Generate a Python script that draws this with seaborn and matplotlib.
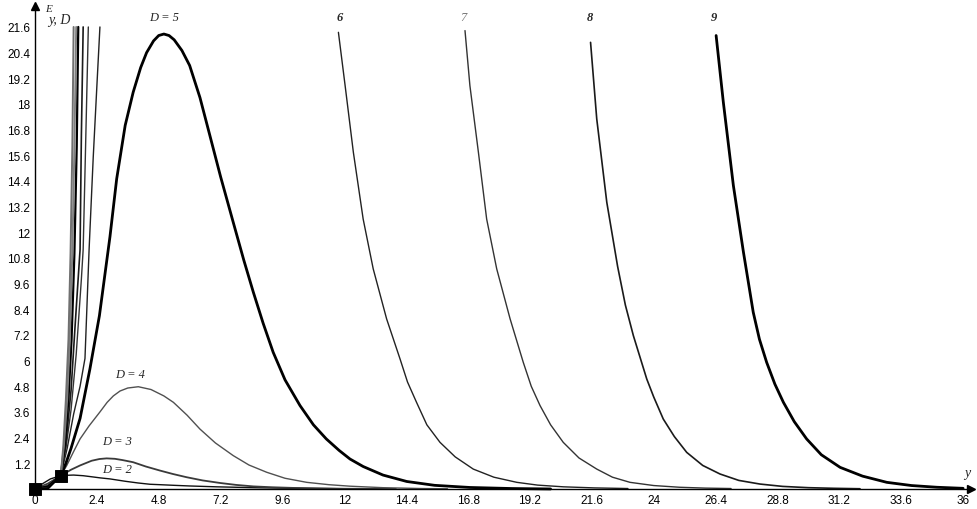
import pandas as pd
import matplotlib.pyplot as plt
import seaborn as sns

# ---- values (y on the x-axis, E_{y,D} on the y-axis) ----
d2_y = [0, 0.3, 0.6, 1.0, 1.25, 1.5, 1.87, 2.2, 2.52, 2.91, 3.5, 4.0, 4.46, 4.85, 5.4, 6.0, 7.05,
        8.5, 10.0, 12.0]
d2_E = [0, 0.25, 0.47, 0.62, 0.64, 0.65, 0.62, 0.57, 0.52, 0.47, 0.36, 0.28, 0.22, 0.2, 0.17, 0.14,
        0.1, 0.06, 0.03, 0.01]

d3_y = [0, 0.5, 1.0, 1.4, 1.75, 2.2, 2.5, 2.78, 3.1, 3.4, 3.81, 4.3, 4.85, 5.35, 5.88, 6.5, 7.18,
        7.8, 8.47, 9.2, 10.0, 11.0, 12.0, 14.0]
d3_E = [0, 0.25, 0.62, 0.9, 1.1, 1.32, 1.4, 1.43, 1.41, 1.35, 1.25, 1.05, 0.86, 0.7, 0.55, 0.4, 0.28,
        0.19, 0.12, 0.08, 0.05, 0.03, 0.01, 0.0]

d4_y = [0, 0.5, 1.0, 1.23, 1.5, 1.75, 2.1, 2.52, 2.8, 3.04, 3.3, 3.6, 4.01, 4.5, 5.0, 5.37, 5.9,
        6.4, 7.0, 7.69, 8.3, 8.99, 9.7, 10.54, 11.4, 12.22, 13.5, 15.0, 16.0]
d4_E = [0, 0.18, 0.62, 1.09, 1.75, 2.34, 2.95, 3.6, 4.05, 4.35, 4.58, 4.72, 4.78, 4.65, 4.35, 4.05,
        3.45, 2.8, 2.15, 1.56, 1.12, 0.78, 0.5, 0.31, 0.2, 0.13, 0.06, 0.02, 0.01]

d5_y = [0, 0.5, 1.0, 1.2, 1.4, 1.75, 2.13, 2.5, 2.91, 3.17, 3.5, 3.81, 4.1, 4.33, 4.6, 4.8, 5.0, 5.2,
        5.4, 5.7, 6.0, 6.4, 6.79, 7.2, 7.69, 8.1, 8.47, 8.85, 9.24, 9.7, 10.28, 10.8, 11.3, 11.8,
        12.22, 12.73, 13.5, 14.42, 15.5, 16.87, 18.5, 20.0]
d5_E = [0, 0.1, 0.62, 1.2, 1.9, 3.3, 5.6, 8.1, 11.8, 14.5, 17.0, 18.55, 19.7, 20.4, 20.95, 21.2, 21.27,
        21.2, 21.0, 20.5, 19.8, 18.3, 16.5, 14.6, 12.47, 10.7, 9.2, 7.75, 6.39, 5.1, 3.9, 3.0, 2.34,
        1.8, 1.4, 1.05, 0.65, 0.35, 0.17, 0.07, 0.02, 0.0]

# D = 6..9 leave the top of the frame, so each has a rising and a falling branch
d6_rise_y = [0, 0.5, 1.0, 1.25, 1.5, 1.75, 1.94, 2.1, 2.26, 2.4, 2.52]
d6_rise_E = [0, 0.06, 0.62, 1.9, 3.5, 4.8, 6.1, 11.2, 15.5, 18.8, 21.6]
d6_fall_y = [11.77, 12.03, 12.35, 12.73, 13.12, 13.64, 14.16, 14.45, 14.8, 15.2, 15.71, 16.3, 17.0,
             17.8, 18.69, 19.5, 20.5, 21.7, 23.0]
d6_fall_E = [21.35, 18.86, 15.74, 12.62, 10.29, 7.95, 6.08, 5.0, 4.05, 3.0, 2.18, 1.5, 0.93,
             0.55, 0.31, 0.18, 0.1, 0.05, 0.02]

d7_rise_y = [0, 0.5, 1.0, 1.2, 1.4, 1.6, 1.8, 1.87, 1.95, 2.07]
d7_rise_E = [0, 0.04, 0.62, 1.9, 3.7, 6.3, 9.8, 11.2, 15.3, 21.6]
d7_fall_y = [16.68, 16.87, 17.2, 17.52, 17.91, 18.43, 18.94, 19.25, 19.59, 20.0, 20.49, 21.1, 21.79,
             22.4, 23.08, 24.0, 25.0, 26.0, 27.0]
d7_fall_E = [21.43, 18.86, 15.74, 12.62, 10.29, 7.95, 5.92, 4.8, 3.9, 3.0, 2.18, 1.45, 0.93,
             0.55, 0.31, 0.16, 0.08, 0.04, 0.02]

d8_rise_y = [0, 0.5, 1.0, 1.2, 1.4, 1.55, 1.75, 1.8, 1.87]
d8_rise_E = [0, 0.03, 0.62, 2.1, 4.6, 7.5, 11.2, 16.5, 21.6]
d8_fall_y = [21.55, 21.79, 22.18, 22.6, 22.9, 23.21, 23.73, 24.0, 24.37, 24.8, 25.28, 25.9, 26.57,
             27.3, 28.12, 29.0, 30.0, 31.0, 32.0]
d8_fall_E = [20.88, 17.3, 13.4, 10.4, 8.6, 7.17, 5.14, 4.3, 3.27, 2.45, 1.71, 1.1, 0.7,
             0.4, 0.23, 0.12, 0.06, 0.03, 0.01]

d9_rise_y = [0, 0.5, 1.0, 1.15, 1.3, 1.42, 1.53, 1.62, 1.68]
d9_rise_E = [0, 0.02, 0.62, 2.0, 4.2, 7.0, 11.0, 16.0, 21.6]
d9_fall_y = [26.42, 26.7, 27.09, 27.48, 27.86, 28.1, 28.38, 28.7, 29.03, 29.45, 29.93, 30.5, 31.23,
             32.1, 33.04, 34.0, 34.98, 36.0]
d9_fall_E = [21.2, 18.08, 14.18, 11.07, 8.26, 7.0, 5.92, 4.9, 4.05, 3.15, 2.34, 1.6, 1.01,
             0.6, 0.31, 0.16, 0.08, 0.03]

# grey bundle of steeper branches left of D = 9
steep_a_y = [1.0, 1.12, 1.25, 1.35, 1.45, 1.53, 1.6]
steep_b_y = [1.0, 1.1, 1.2, 1.3, 1.38, 1.45, 1.5]
steep_E = [0.62, 2.0, 4.2, 7.0, 11.0, 16.0, 21.6]

# marked points and tick values
marker_y = [0, 1.0]
marker_E = [0, 0.62]
x_ticks = [0, 2.4, 4.8, 7.2, 9.6, 12, 14.4, 16.8, 19.2, 21.6, 24, 26.4, 28.8, 31.2, 33.6, 36]
y_ticks = [1.2, 2.4, 3.6, 4.8, 6, 7.2, 8.4, 9.6, 10.8, 12, 13.2, 14.4, 15.6, 16.8, 18,
           19.2, 20.4, 21.6]

curves = [
    (d2_y, d2_E, '#111111', 1.0),
    (d3_y, d3_E, '#3a3a3a', 1.3),
    (d4_y, d4_E, '#505050', 1.0),
    (d5_y, d5_E, '#000000', 2.0),
    (d6_rise_y, d6_rise_E, '#222222', 1.0),
    (d6_fall_y, d6_fall_E, '#222222', 1.0),
    (d7_rise_y, d7_rise_E, '#333333', 1.0),
    (d7_fall_y, d7_fall_E, '#333333', 1.0),
    (d8_rise_y, d8_rise_E, '#1a1a1a', 1.2),
    (d8_fall_y, d8_fall_E, '#1a1a1a', 1.2),
    (d9_rise_y, d9_rise_E, '#000000', 1.6),
    (d9_fall_y, d9_fall_E, '#000000', 2.0),
    (steep_a_y, steep_E, '#808080', 1.4),
    (steep_b_y, steep_E, '#707070', 1.4),
]

sns.set_style('white')
plt.rcParams['font.family'] = ['Liberation Sans', 'DejaVu Sans']

fig = plt.figure(figsize=(9.77, 5.10), dpi=100)
ax = fig.add_axes([0.0305, 0.0267, 0.9632, 0.9604])

for xs, es, col, lw in curves:
    df = pd.DataFrame({'y': xs, 'E': es})
    sns.lineplot(data=df, x='y', y='E', estimator=None, sort=False,
                 color=col, linewidth=lw, ax=ax)

sns.scatterplot(x=marker_y, y=marker_E, marker='s', s=70, color='black',
                edgecolor='black', zorder=5, clip_on=False, ax=ax)

ax.set_xlim(-0.2, 36.3)
ax.set_ylim(-0.3, 22.6)
ax.spines['left'].set_position(('data', 0))
ax.spines['bottom'].set_position(('data', 0))
ax.spines['top'].set_visible(False)
ax.spines['right'].set_visible(False)
for s in ['left', 'bottom']:
    ax.spines[s].set_linewidth(1.0)
    ax.spines[s].set_color('black')

ax.set_xticks(x_ticks)
ax.set_xticklabels([f'{v:g}' for v in x_ticks])
ax.set_yticks(y_ticks)
ax.set_yticklabels([f'{v:g}' for v in y_ticks])
ax.tick_params(direction='inout', length=5, width=0.8, labelsize=8.5, pad=1, colors='black')
ax.set_xlabel('')
ax.set_ylabel('')

# axis arrows
ax.plot(1, 0, '>k', markersize=6, transform=ax.get_yaxis_transform(), clip_on=False)
ax.plot(0, 1, '^k', markersize=6, transform=ax.get_xaxis_transform(), clip_on=False)

serif = dict(family=['Liberation Serif', 'DejaVu Serif'], style='italic')
ax.text(0.4, 22.45, 'E', fontsize=8, ha='left', va='center', **serif)
ax.text(0.5, 21.95, 'y, D', fontsize=10, ha='left', va='center', **serif)
ax.text(36.15, 0.75, 'y', fontsize=10, ha='center', va='center', **serif)

ax.text(5.0, 22.07, 'D = 5', fontsize=9, ha='center', va='center', **serif)
ax.text(3.69, 5.38, 'D = 4', fontsize=9, ha='center', va='center', **serif)
ax.text(3.18, 2.24, 'D = 3', fontsize=9, ha='center', va='center', **serif)
ax.text(3.18, 0.94, 'D = 2', fontsize=9, ha='center', va='center', **serif)
ax.text(11.83, 22.07, '6', fontsize=9, fontweight='bold', ha='center', va='center', **serif)
ax.text(16.6, 22.07, '7', fontsize=9, color='#777777', ha='center', va='center', **serif)
ax.text(21.53, 22.07, '8', fontsize=9, fontweight='bold', ha='center', va='center', **serif)
ax.text(26.34, 22.07, '9', fontsize=9, fontweight='bold', ha='center', va='center', **serif)

fig.savefig('out.png', dpi=100)
plt.close(fig)
